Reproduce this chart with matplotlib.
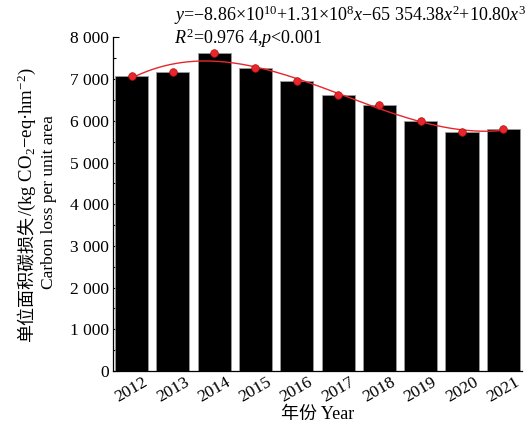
import numpy as np
import matplotlib
matplotlib.use("Agg")
import matplotlib.pyplot as plt
from matplotlib.ticker import MultipleLocator, FuncFormatter

plt.rcParams["font.family"] = ["Liberation Serif", "Noto Sans CJK SC"]
plt.rcParams["mathtext.fontset"] = "custom"
plt.rcParams["mathtext.rm"] = "Liberation Serif"
plt.rcParams["mathtext.it"] = "Liberation Serif:italic"

years = [2012, 2013, 2014, 2015, 2016, 2017, 2018, 2019, 2020, 2021]
carbon_loss = [7081, 7177, 7633, 7266, 6962, 6612, 6372, 5995, 5724, 5796]

x = np.arange(len(years))
yrs = np.array(years, dtype=float)
vals = np.array(carbon_loss, dtype=float)

# cubic fit (centred for numerical stability)
coef = np.polyfit(yrs - yrs.mean(), vals, 3)
xs = np.linspace(yrs[0], yrs[-1], 200)
ys = np.polyval(coef, xs - yrs.mean())

fig = plt.figure(figsize=(5.32, 4.34), dpi=100)
ax = fig.add_axes([0.2124, 0.1452, 0.7686, 0.7684])

ax.bar(x, vals, width=0.8, color="black", edgecolor="#9a9a9a", linewidth=0.6, zorder=2)
ax.plot(xs - yrs[0], ys, color="#e8262b", lw=1.0, zorder=3)
ax.plot(x, vals, "o", color="#e8262b", mec="#b01010", mew=0.5, ms=5.5, zorder=4)

ax.set_xlim(-0.45, 9.45)
ax.set_ylim(0, 8000)
ax.yaxis.set_major_locator(MultipleLocator(1000))
ax.yaxis.set_minor_locator(MultipleLocator(500))
ax.yaxis.set_major_formatter(FuncFormatter(
    lambda v, p: f"{int(v):,}".replace(",", " ")))
ax.tick_params(axis="y", which="major", direction="in", length=4, width=0.8, labelsize=12.5, pad=3)
ax.tick_params(axis="y", which="minor", direction="in", length=2.5, width=0.8)
ax.tick_params(axis="x", length=0, labelsize=12.5, pad=2)
ax.set_xticks(x)
ax.set_xticklabels([str(y) for y in years], rotation=30, ha="center")

for s in ["top", "right"]:
    ax.spines[s].set_visible(False)
for s in ["left", "bottom"]:
    ax.spines[s].set_linewidth(0.9)

ax.set_xlabel("年份 Year", fontsize=13, labelpad=1)

# y label, line 1: Chinese part and unit part as two texts (mathtext has no CJK glyphs)
renderer = fig.canvas.get_renderer()
t_cn = fig.text(0.05, 0.212, "单位面积碳损失", rotation=90,
                ha="center", va="bottom", fontsize=13)
bb = t_cn.get_window_extent(renderer).transformed(fig.transFigure.inverted())
fig.text(0.05, bb.y1, "/(kg CO$_2$−eq·hm$^{-2}$)", rotation=90,
         ha="center", va="bottom", fontsize=13.5)
fig.text(0.093, 0.535, "Carbon loss per unit area",
         rotation=90, ha="center", va="center", fontsize=12.5)

fig.text(0.328, 0.965,
         r"$y$=−8.86×10$^{10}$+1.31×10$^{8}$$x$−65 354.38$x^{2}$+10.80$x^{3}$",
         ha="left", va="center", fontsize=13)
fig.text(0.328, 0.912, r"$R^{2}$=0.976 4,$p$<0.001",
         ha="left", va="center", fontsize=13)

fig.savefig("out.png", dpi=100)
